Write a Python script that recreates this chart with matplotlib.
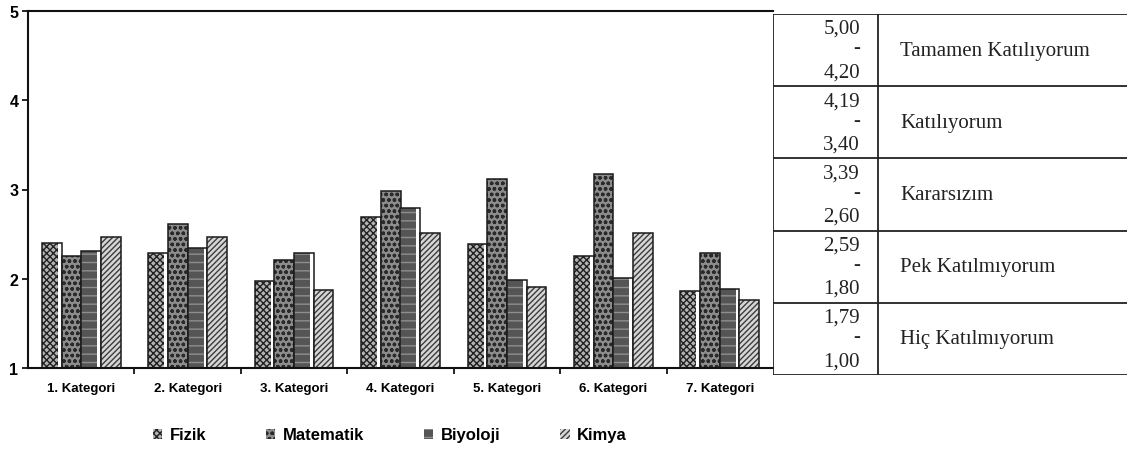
import numpy as np
import matplotlib.pyplot as plt
import matplotlib as mpl

kategoriler = ["1. Kategori", "2. Kategori", "3. Kategori", "4. Kategori",
               "5. Kategori", "6. Kategori", "7. Kategori"]
fizik = [2.40, 2.29, 1.97, 2.69, 2.39, 2.25, 1.86]
matematik = [2.26, 2.61, 2.21, 2.98, 3.12, 3.17, 2.29]
biyoloji = [2.31, 2.35, 2.29, 2.79, 1.99, 2.01, 1.88]
kimya = [2.47, 2.47, 1.87, 2.51, 1.91, 2.51, 1.76]

araliklar = [("5,00", "4,20"), ("4,19", "3,40"), ("3,39", "2,60"),
             ("2,59", "1,80"), ("1,79", "1,00")]
secenekler = ["Tamamen Katılıyorum", "Katılıyorum", "Kararsızım",
              "Pek Katılmıyorum", "Hiç Katılmıyorum"]


def main():
    mpl.rcParams["font.family"] = ["Liberation Sans", "DejaVu Sans"]
    mpl.rcParams["hatch.linewidth"] = 1.0

    W, H = 1127, 456
    fig = plt.figure(figsize=(W / 100, H / 100), dpi=100)
    ax = fig.add_axes([28 / W, (H - 369) / H, (773 - 28) / W, (369 - 12) / H])

    # (ad, deger, dolgu, desen rengi, desen, sagda beyaz serit)
    seriler = [
        ("Fizik", fizik, "#b4b4b4", "#202020", "xxxxx", True),
        ("Matematik", matematik, "#8c8c8c", "#2a2a2a", "ooo", False),
        ("Biyoloji", biyoloji, "#555555", "#8e8e8e", "--", True),
        ("Kimya", kimya, "#d6d6d6", "#3c3c3c", "//////", False),
    ]

    x = np.arange(len(kategoriler))
    genislik = 0.185
    serit = 0.035
    for i, (ad, deger, renk, kenar, desen, beyaz) in enumerate(seriler):
        pos = x + (i - 1.5) * genislik
        yuk = np.array(deger) - 1
        w = genislik - serit if beyaz else genislik
        ax.bar(pos - genislik / 2, yuk, w, bottom=1, align="edge", color=renk,
               edgecolor=kenar, hatch=desen, linewidth=0, label=ad)
        ax.bar(pos, yuk, genislik, bottom=1, fill=False,
               edgecolor="#1a1a1a", linewidth=1.1)

    ax.set_xlim(-0.5, len(kategoriler) - 0.5)
    ax.set_ylim(1, 5)
    ax.set_yticks([1, 2, 3, 4, 5])
    ax.set_yticklabels(["1", "2", "3", "4", "5"], fontsize=11.5, fontweight="bold")
    ax.set_xticks(x)
    ax.set_xticklabels(kategoriler, fontsize=9.5, fontweight="bold")
    ax.set_xticks(np.arange(0.5, len(kategoriler) - 0.5), minor=True)
    ax.tick_params(axis="x", which="major", length=0, pad=10)
    ax.tick_params(axis="x", which="minor", length=4, direction="out", width=1.2)
    ax.tick_params(axis="y", length=4, width=1.2, pad=3)
    ax.spines["right"].set_visible(False)
    for s in ["left", "bottom", "top"]:
        ax.spines[s].set_linewidth(1.5)
        ax.spines[s].set_color("#111111")

    # alt kisimdaki seri aciklamasi
    fig.legend(loc="center", bbox_to_anchor=(390 / W, (H - 436) / H), ncol=4,
               frameon=False, handlelength=0.55, handleheight=0.55,
               handletextpad=0.45, columnspacing=3.6,
               prop={"weight": "bold", "size": 12})

    # sag taraftaki olcek tablosu
    tab = fig.add_axes([773 / W, (H - 376) / H, (1127 - 773) / W, (376 - 15) / H])
    tab.set_xlim(0, 1127 - 773)
    tab.set_ylim(0, 5)
    tab.axis("off")
    cizgi = dict(color="#222222", linewidth=1.3, solid_capstyle="butt")
    sinir = 878 - 773
    for k in range(6):
        tab.plot([0, 1127 - 773], [k, k], **cizgi)
    tab.plot([0, 0], [0, 5], **cizgi)
    tab.plot([sinir, sinir], [0, 5], **cizgi)
    yazi = dict(fontfamily="Liberation Serif", fontsize=15, color="#222222")
    for k, ((ust, alt), metin) in enumerate(zip(araliklar, secenekler)):
        y0 = 5 - k
        tab.text(sinir - 18, y0 - 0.2, ust, ha="right", va="center", **yazi)
        tab.text(sinir - 18, y0 - 0.47, "-", ha="right", va="center", **yazi)
        tab.text(sinir - 18, y0 - 0.8, alt, ha="right", va="center", **yazi)
        tab.text(sinir + 22, y0 - 0.5, metin, ha="left", va="center", **yazi)

    fig.savefig("out.png", dpi=100)


if __name__ == "__main__":
    main()
